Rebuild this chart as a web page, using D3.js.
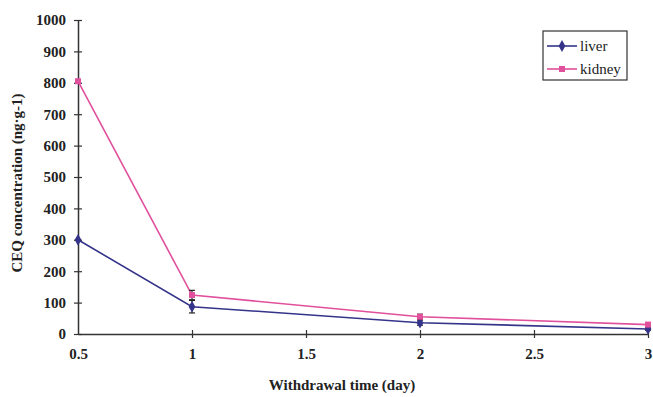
<!DOCTYPE html>
<html>
<head>
<meta charset="utf-8">
<script src="https://cdn.jsdelivr.net/npm/d3@7"></script>
<style>
  body { margin: 0; background: #fff; }
  svg text { font-family: "Liberation Serif", "DejaVu Serif", serif; font-weight: bold; fill: #222; }
</style>
</head>
<body>
<svg id="chart"></svg>
<script>
// data
const days = [0.5, 1, 2, 3];
const liver = [300, 87, 36, 16];
const liverErr = [0, 20, 8, 4];
const kidney = [805, 124, 55, 30];
const kidneyErr = [0, 15, 8, 5];
const xTicks = [0.5, 1, 1.5, 2, 2.5, 3];
const yTicks = [0, 100, 200, 300, 400, 500, 600, 700, 800, 900, 1000];

const width = 653, height = 397;
const margin = { top: 20, right: 5, bottom: 63, left: 78 };

const svg = d3.select("#chart").attr("width", width).attr("height", height);

const x = d3.scaleLinear().domain([0.5, 3]).range([margin.left, width - margin.right]);
const y = d3.scaleLinear().domain([0, 1000]).range([height - margin.bottom, margin.top]);

// axes
const yAxis = d3.axisLeft(y).tickValues(yTicks).tickSize(0).tickPadding(12).tickFormat(d3.format("d"));
const gy = svg.append("g").attr("transform", `translate(${margin.left},0)`).call(yAxis);
gy.select(".domain").attr("stroke", "#333").attr("stroke-width", 1.5);
gy.selectAll("text").style("font-size", "15px");
gy.selectAll(".tick").append("line").attr("x1", -4).attr("x2", 4).attr("stroke", "#333").attr("stroke-width", 1.2);

const xAxis = d3.axisBottom(x).tickValues(xTicks).tickSize(0).tickPadding(14).tickFormat(d3.format("~g"));
const gx = svg.append("g").attr("transform", `translate(0,${height - margin.bottom})`).call(xAxis);
gx.select(".domain").attr("stroke", "#333").attr("stroke-width", 1.5);
gx.selectAll("text").style("font-size", "15px");
gx.selectAll(".tick").filter(d => d > 0.5).append("line").attr("y1", -4).attr("y2", 4).attr("stroke", "#333").attr("stroke-width", 1.2);

// axis titles
svg.append("text")
  .attr("transform", `translate(22,${(margin.top + height - margin.bottom) / 2 + 6}) rotate(-90)`)
  .attr("text-anchor", "middle")
  .style("font-size", "15px")
  .text("CEQ concentration (ng·g-1)");

svg.append("text")
  .attr("x", 342).attr("y", 390)
  .attr("text-anchor", "middle")
  .style("font-size", "15px")
  .text("Withdrawal time (day)");

// series
const series = [
  { name: "liver", values: liver, err: liverErr, color: "#34348a", marker: d3.symbolDiamond },
  { name: "kidney", values: kidney, err: kidneyErr, color: "#e0509c", marker: d3.symbolSquare }
];

const line = d3.line().x(d => x(d[0])).y(d => y(d[1]));

series.forEach(s => {
  const pts = days.map((d, i) => [d, s.values[i], s.err[i]]);
  svg.append("path")
    .datum(pts)
    .attr("fill", "none")
    .attr("stroke", s.color)
    .attr("stroke-width", 1.6)
    .attr("d", line);

  // error bars
  const eb = svg.append("g").selectAll("g").data(pts.filter(p => p[2] > 0)).enter().append("g");
  eb.append("line")
    .attr("x1", d => x(d[0])).attr("x2", d => x(d[0]))
    .attr("y1", d => y(d[1] - d[2])).attr("y2", d => y(d[1] + d[2]))
    .attr("stroke", "#222").attr("stroke-width", 1.2);
  [-1, 1].forEach(sign => {
    eb.append("line")
      .attr("x1", d => x(d[0]) - 3).attr("x2", d => x(d[0]) + 3)
      .attr("y1", d => y(d[1] + sign * d[2])).attr("y2", d => y(d[1] + sign * d[2]))
      .attr("stroke", "#222").attr("stroke-width", 1.2);
  });

  svg.append("g").selectAll("path").data(pts).enter().append("path")
    .attr("transform", d => `translate(${x(d[0])},${y(d[1])})`)
    .attr("d", d3.symbol().type(s.marker).size(s.marker === d3.symbolSquare ? 36 : 40))
    .attr("fill", s.color);
});

// legend
const legend = svg.append("g").attr("transform", "translate(543,31)");
legend.append("rect")
  .attr("width", 84).attr("height", 49)
  .attr("fill", "#fff").attr("stroke", "#333").attr("stroke-width", 1.2);
series.forEach((s, i) => {
  const ly = 15 + i * 23;
  legend.append("line").attr("x1", 4).attr("x2", 34).attr("y1", ly).attr("y2", ly)
    .attr("stroke", s.color).attr("stroke-width", 1.6);
  legend.append("path")
    .attr("transform", `translate(19,${ly})`)
    .attr("d", d3.symbol().type(s.marker).size(s.marker === d3.symbolSquare ? 36 : 40))
    .attr("fill", s.color);
  legend.append("text").attr("x", 37).attr("y", ly + 5)
    .style("font-size", "15px").style("font-weight", "normal")
    .text(s.name);
});
</script>
</body>
</html>
